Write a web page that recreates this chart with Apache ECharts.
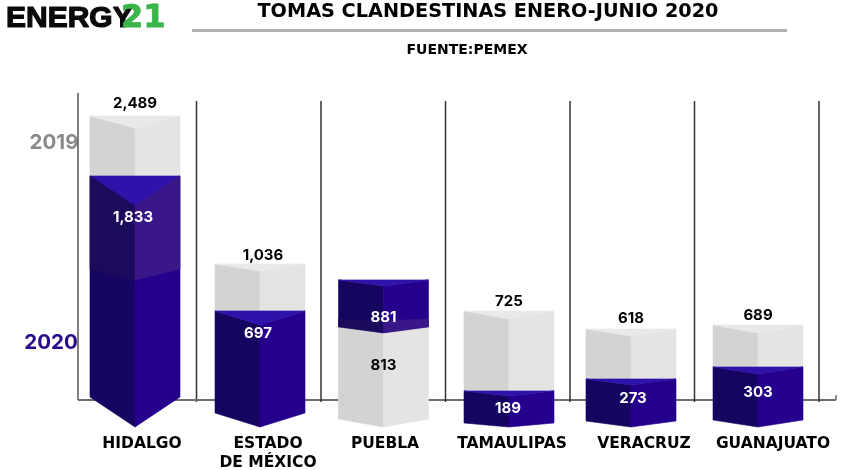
<!DOCTYPE html>
<html><head><meta charset="utf-8">
<style>html,body{margin:0;padding:0;background:#fff}#c{width:853px;height:470px}</style>
<script src="https://cdn.jsdelivr.net/npm/echarts@6/dist/echarts.min.js"></script>
</head><body><div id="c"></div>
<script>
const categories = ['HIDALGO', 'ESTADO\nDE MÉXICO', 'PUEBLA', 'TAMAULIPAS', 'VERACRUZ', 'GUANAJUATO'];
// Printed values
const values2019 = [2489, 1036, 813, 725, 618, 689];
const values2020 = [1833, 697, 881, 189, 273, 303];
// Heights as the reference actually draws them (its bars are not to scale), in the same units
const drawn2019 = [2489, 1192, 640, 780, 622, 657];
const drawn2020 = [1963, 780, 1052, 79, 184, 289];

const yMin = -237, yMax = 2804;
const FONT = 'Inter';
const HEAD = 'DejaVu Sans';
const GRAY = {top:'#e9e9e9', left:'#d3d3d3', right:'#e4e4e4', text:'#000'};
const BLUE = {top:'#2e12aa', left:'#150460', right:'#25008c', text:'#fff'};
const BAND = {left:'#1c0b5c', right:'#3a1789'};
// Per-bar picture styling (pixels)
const style = [
  {nudge:0.75,  tiltBack:12, tiltFront:30, tiltBase:30, topLab:-12, frontLab:42, backLab:0,  labelX:7.75,  textX:0, frontX:-2},
  {nudge:1.25,  tiltBack:7,  tiltFront:14, tiltBase:14, topLab:-8,  frontLab:23, backLab:0,  labelX:9.25,  textX:3, frontX:-2},
  {nudge:0.25,  tiltBack:6,  tiltFront:6,  tiltBase:8,  topLab:0,   frontLab:39, backLab:38, labelX:1.75,  textX:0},
  {nudge:1.25,  tiltBack:8,  tiltFront:5,  tiltBase:4,  topLab:-9,  frontLab:18, backLab:0,  labelX:4.25,  textX:0, frontX:-1},
  {nudge:-1.25, tiltBack:7,  tiltFront:6,  tiltBase:6,  topLab:-10, frontLab:20, backLab:0,  labelX:11.75, textX:0, frontX:2},
  {nudge:1.25,  tiltBack:8,  tiltFront:7,  tiltBase:7,  topLab:-10, frontLab:26, backLab:0,  labelX:16.25, textX:0}
];
const HALF = 45;

function poly(pts, fill){ return {type:'polygon', shape:{points:pts}, style:{fill:fill, stroke:fill, lineWidth:0.6}, silent:true}; }
function txt(s,x,y,size,fill,weight){
  return {type:'text', silent:true, style:{text:s,x:x,y:y,fill:fill,align:'center',verticalAlign:'middle',
    fontFamily:FONT,fontWeight:weight||700,fontSize:size,lineHeight:19}};
}
function box(cx, yTop, tiltTop, yEnd, tiltEnd, c, withTop){
  const L=cx-HALF, R=cx+HALF, out=[];
  out.push(poly([[L,yTop],[cx,yTop+tiltTop],[cx,yEnd+tiltEnd],[L,yEnd]], c.left));
  out.push(poly([[cx,yTop+tiltTop],[R,yTop],[R,yEnd],[cx,yEnd+tiltEnd]], c.right));
  if(withTop) out.push(poly([[L,yTop],[R,yTop],[cx,yTop+tiltTop]], c.top));
  return out;
}

function renderBars(params, api){
  const i = api.value(0), s = style[i];
  const cx = api.coord([i,0])[0] + s.nudge;
  const v19 = api.value(1), v20 = api.value(2);
  const y19 = api.coord([i,v19])[1], y20 = api.coord([i,v20])[1], yBase = api.coord([i,yMin])[1];
  const blueBack = v20 > v19;
  const yB = blueBack ? y20 : y19, yF = blueBack ? y19 : y20;
  const cB = blueBack ? BLUE : GRAY, cF = blueBack ? GRAY : BLUE;
  const kids = [];
  box(cx, yB, s.tiltBack, yF, s.tiltFront, cB, true).forEach(e=>kids.push(e));
  box(cx, yF, s.tiltFront, yBase-s.tiltBase, s.tiltBase, cF, !blueBack).forEach(e=>kids.push(e));
  if(i===0){
    box(cx, yF, s.tiltFront, yF+93, 11, BAND, false).forEach(e=>kids.push(e));
  }
  if(i===2){
    kids.push(poly([[cx-HALF,yF-8],[cx,yF-6],[cx,yF+s.tiltFront],[cx-HALF,yF]], BAND.left));
    kids.push(poly([[cx,yF-6],[cx+HALF,yF-8],[cx+HALF,yF],[cx,yF+s.tiltFront]], BAND.right));
  }
  const backVal = blueBack ? values2020[i] : values2019[i];
  const frontVal = blueBack ? values2019[i] : values2020[i];
  const fmt = n => n.toLocaleString('en-US');
  const backY = blueBack ? yB + s.backLab : yB + s.topLab;
  kids.push(txt(fmt(backVal), cx+(s.textX||0), backY, 15, cB.text));
  kids.push(txt(fmt(frontVal), cx+(s.frontX||0), yF + s.frontLab, 15, cF.text));
  kids.push({type:'text', silent:true, style:{text:categories[i], x:api.coord([i,0])[0]+s.labelX, y:434,
    fill:'#000',align:'center',verticalAlign:'top',fontFamily:HEAD,fontWeight:700,fontSize:15.5,lineHeight:19}});
  return {type:'group', children:kids};
}

function renderFrame(params, api){
  const i = api.value(0);
  const x = api.coord([i,0])[0], y0 = api.coord([i,0])[1], w = api.size([1,0])[0];
  const kids = [];
  const line=(x1,y1,x2,y2,c,lw)=>({type:'line',silent:true,shape:{x1,y1,x2,y2},style:{stroke:c,lineWidth:lw}});
  kids.push(line(x+w/2,y0-299,x+w/2,y0+2,'#333',1.5));
  if(i===0){
    kids.push(line(x-w/2+6,y0-307,x-w/2+6,y0,'#555',1.5));
    kids.push(line(x-w/2+6,y0,x+w*5.5+17,y0,'#6e6e6e',2));
    kids.push(line(x+w*5.5+17,y0-5,x+w*5.5+17,y0,'#6e6e6e',1.5));
  }
  return {type:'group',children:kids};
}

const rows = categories.map((c,i)=>[i, drawn2019[i], drawn2020[i]]);
const chart = echarts.init(document.getElementById('c'));
chart.setOption({
  animation:false,
  backgroundColor:'#fff',
  grid:{left:72, top:80, width:747, height:347},
  xAxis:{type:'category', data:categories.map((c,i)=>i), axisLine:{show:false}, axisTick:{show:false}, axisLabel:{show:false}, splitLine:{show:false}},
  yAxis:{type:'value', min:yMin, max:yMax, show:false, splitLine:{show:false}},
  series:[
    {type:'custom', name:'marco', coordinateSystem:'cartesian2d', renderItem:renderFrame, data:rows, z:1, clip:false},
    {type:'custom', name:'2019 / 2020', coordinateSystem:'cartesian2d', renderItem:renderBars, data:rows, z:2, clip:false}
  ],
  graphic:[
    {type:'text',x:6,y:19,silent:true,style:{
      text:'ENERGY',verticalAlign:'middle',fontFamily:'Liberation Sans',fontWeight:700,fontSize:30,fill:'#0a0a0a',stroke:'#0a0a0a',lineWidth:1.2}},
    {type:'text',x:121,y:18.5,silent:true,style:{
      text:'21',verticalAlign:'middle',fontFamily:HEAD,fontWeight:700,fontSize:32,fill:'#3ab54a',stroke:'#3ab54a',lineWidth:0.8}},
    {type:'text',x:488,y:12,silent:true,style:{text:'TOMAS CLANDESTINAS ENERO-JUNIO 2020',align:'center',verticalAlign:'middle',fontFamily:HEAD,fontWeight:700,fontSize:19.25,fill:'#000'}},
    {type:'rect',shape:{x:192,y:29,width:595,height:3},silent:true,style:{fill:'#b0b0b0'}},
    {type:'text',x:467,y:50,silent:true,style:{text:'FUENTE:PEMEX',align:'center',verticalAlign:'middle',fontFamily:HEAD,fontWeight:700,fontSize:14,fill:'#000'}},
    {type:'text',x:54,y:143,silent:true,style:{text:'2019',align:'center',verticalAlign:'middle',fontFamily:FONT,fontWeight:700,fontSize:20.5,fill:'#8a8a8a'}},
    {type:'text',x:51,y:343,silent:true,style:{text:'2020',align:'center',verticalAlign:'middle',fontFamily:FONT,fontWeight:700,fontSize:20.5,fill:'#2a0a8a'}}
  ]
});
</script></body></html>
